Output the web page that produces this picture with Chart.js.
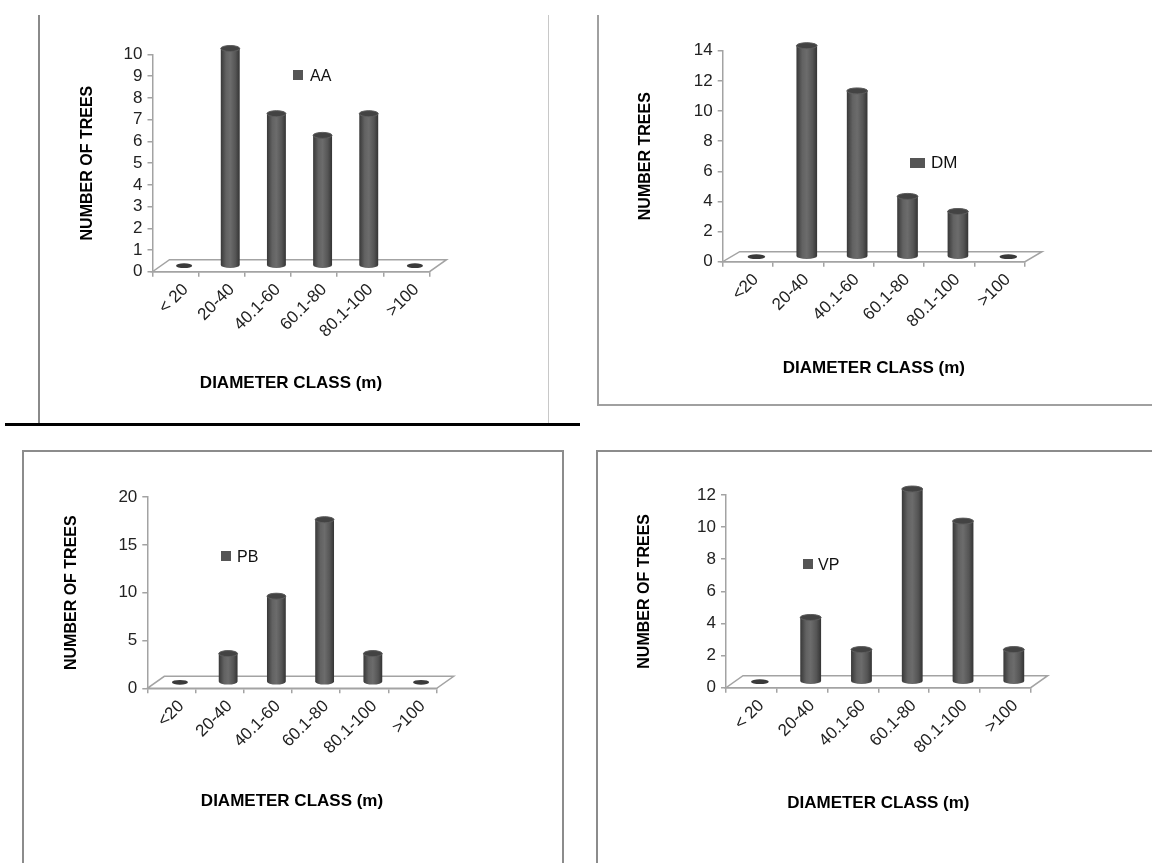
<!DOCTYPE html>
<html>
<head>
<meta charset="utf-8">
<script src="https://cdn.jsdelivr.net/npm/chart.js@4.4.1/dist/chart.umd.min.js"></script>
<style>
  html, body { margin: 0; padding: 0; background: #fff; }
  #sheet { position: relative; width: 1152px; height: 863px; overflow: hidden; background: #fff;
           font-family: "Liberation Sans", Arial, sans-serif; }
  #sheet canvas { position: absolute; }
  .rule { position: absolute; box-sizing: border-box; }
  .swatch { position: absolute; background: #555; }
  .keytext { position: absolute; font-size: 16px; line-height: 16px; color: #111; white-space: nowrap; }
</style>
</head>
<body>
<div id="sheet">
  <!-- panel frames -->
  <div class="rule" style="left:38px;top:15px;width:2px;height:409px;background:#8a8a8a"></div>
  <div class="rule" style="left:548px;top:15px;width:1px;height:409px;background:#c8c8c8"></div>
  <div class="rule" style="left:5px;top:423px;width:575px;height:3px;background:#000"></div>
  <div class="rule" style="left:597px;top:15px;width:560px;height:391px;border-left:2px solid #a0a0a0;border-bottom:2px solid #a0a0a0"></div>
  <div class="rule" style="left:22px;top:450px;width:542px;height:430px;border:2.5px solid #8c8c8c"></div>
  <div class="rule" style="left:596px;top:450px;width:600px;height:430px;border:2.5px solid #8c8c8c"></div>

  <canvas id="chartAA" width="505" height="405" style="left:40px;top:16px"></canvas>
  <canvas id="chartDM" width="553" height="388" style="left:599px;top:16px"></canvas>
  <canvas id="chartPB" width="537" height="410" style="left:25px;top:453px"></canvas>
  <canvas id="chartVP" width="553" height="410" style="left:599px;top:453px"></canvas>

  <!-- series keys -->
  <div class="swatch" style="left:293px;top:70px;width:10px;height:10px"></div>
  <div class="keytext" style="left:310px;top:68px">AA</div>
  <div class="swatch" style="left:910px;top:158px;width:15px;height:10px"></div>
  <div class="keytext" style="left:931px;top:155px;font-size:17px">DM</div>
  <div class="swatch" style="left:221px;top:551px;width:10px;height:10px"></div>
  <div class="keytext" style="left:237px;top:549px">PB</div>
  <div class="swatch" style="left:803px;top:559px;width:10px;height:10px"></div>
  <div class="keytext" style="left:818px;top:557px">VP</div>
</div>

<script>
// Diameter classes (two spellings of the first class appear on the panels)
const classesSpaced = ['< 20', '20-40', '40.1-60', '60.1-80', '80.1-100', '>100'];
const classesTight  = ['<20', '20-40', '40.1-60', '60.1-80', '80.1-100', '>100'];

// Number of trees per diameter class, one list per species
const aaTrees = [0, 10, 7, 6, 7, 0];
const dmTrees = [0, 14, 11, 4, 3, 0];
const pbTrees = [0, 3, 9, 17, 3, 0];
const vpTrees = [0, 4, 2, 12, 10, 2];

// Value-axis ranges
const aaAxis = { max: 10, step: 1 };
const dmAxis = { max: 14, step: 2 };
const pbAxis = { max: 20, step: 5 };
const vpAxis = { max: 12, step: 2 };

const FONT = '"Liberation Sans", Arial, sans-serif';
const AXIS_GREY = '#a3a3a3';

// Floor plane and cylindrical columns drawn from the bar elements' own geometry
const cylinders = {
  id: 'cylinders',
  beforeDatasetsDraw(chart, args, opts) {
    const { ctx, chartArea: { left, right, bottom } } = chart;
    const dx = opts.dx, dy = opts.dy;
    ctx.save();
    ctx.beginPath();
    ctx.moveTo(left, bottom);
    ctx.lineTo(right, bottom);
    ctx.lineTo(right + dx, bottom + dy);
    ctx.lineTo(left + dx, bottom + dy);
    ctx.closePath();
    ctx.fillStyle = '#ffffff';
    ctx.fill();
    ctx.strokeStyle = AXIS_GREY;
    ctx.lineWidth = 1.5;
    ctx.stroke();
    ctx.restore();
  },
  afterDatasetsDraw(chart, args, opts) {
    const ctx = chart.ctx;
    const dx = opts.dx, dy = opts.dy;
    const ry = 3;
    chart.getDatasetMeta(0).data.forEach(bar => {
      const p = bar.getProps(['x', 'y', 'base', 'width'], true);
      const cx = p.x + dx / 2;
      const top = p.y + dy / 2;
      const bot = p.base + dy / 2;
      const rx = p.width / 2;
      ctx.save();
      if (bot - top < 1) {
        ctx.beginPath();
        ctx.ellipse(cx, bot, rx * 0.85, ry * 0.8, 0, 0, Math.PI * 2);
        ctx.fillStyle = '#3a3a3a';
        ctx.fill();
        ctx.restore();
        return;
      }
      const g = ctx.createLinearGradient(cx - rx, 0, cx + rx, 0);
      g.addColorStop(0, '#383838');
      g.addColorStop(0.28, '#626262');
      g.addColorStop(0.5, '#6c6c6c');
      g.addColorStop(0.78, '#555555');
      g.addColorStop(1, '#343434');
      ctx.beginPath();
      ctx.moveTo(cx - rx, top);
      ctx.lineTo(cx - rx, bot);
      ctx.ellipse(cx, bot, rx, ry, 0, Math.PI, 0, true);
      ctx.lineTo(cx + rx, top);
      ctx.ellipse(cx, top, rx, ry, 0, 0, Math.PI, true);
      ctx.closePath();
      ctx.fillStyle = g;
      ctx.fill();
      ctx.beginPath();
      ctx.ellipse(cx, top, rx, ry, 0, 0, Math.PI * 2);
      ctx.fillStyle = '#434343';
      ctx.fill();
      ctx.strokeStyle = '#5e5e5e';
      ctx.lineWidth = 1;
      ctx.stroke();
      ctx.restore();
    });
  }
};

function panel(canvasId, labels, values, axis, yTitle, frame) {
  const yTitleLH = 16 * 1.2;
  const xTitleLH = 17 * 1.2;
  const c = frame.canvas;
  const padLeft = (frame.yTitleX - c.x) - yTitleLH / 2;
  const yWidth = (frame.plot.l - c.x) - padLeft;
  const padTop = frame.plot.t - c.y;
  const padRight = (c.x + c.w) - frame.plot.r;
  const padBottom = (c.y + c.h) - frame.xTitleY - xTitleLH / 2;
  const xHeight = (c.y + c.h - frame.plot.b) - padBottom;

  return new Chart(document.getElementById(canvasId), {
    type: 'bar',
    data: {
      labels: labels,
      datasets: [{
        data: values,
        backgroundColor: 'rgba(0,0,0,0)',
        borderWidth: 0,
        barPercentage: frame.barShare,
        categoryPercentage: 1
      }]
    },
    options: {
      responsive: false,
      animation: false,
      devicePixelRatio: 1,
      layout: { padding: { left: padLeft, top: padTop, right: padRight, bottom: padBottom } },
      plugins: {
        legend: { display: false },
        tooltip: { enabled: false },
        cylinders: { dx: frame.dx, dy: frame.dy }
      },
      scales: {
        x: {
          offset: true,
          grid: { display: true, drawOnChartArea: false, drawTicks: true, tickLength: 5, color: AXIS_GREY, lineWidth: 1.5 },
          border: { display: true, color: AXIS_GREY, width: 1.5 },
          ticks: {
            autoSkip: false, maxRotation: 45, minRotation: 45,
            labelOffset: frame.labelShift, padding: 3,
            color: '#222', font: { family: FONT, size: 17 }
          },
          title: {
            display: true, text: 'DIAMETER CLASS (m)', color: '#000',
            padding: { top: 0, bottom: 0 },
            font: { family: FONT, size: 17, weight: 'bold' }
          },
          afterFit: s => { s.height = xHeight; }
        },
        y: {
          min: 0, max: axis.max,
          grid: { display: true, drawOnChartArea: false, drawTicks: true, tickLength: 5, color: AXIS_GREY, lineWidth: 1.5 },
          border: { display: true, color: AXIS_GREY, width: 1.5 },
          ticks: { stepSize: axis.step, autoSkip: false, padding: 5, color: '#222', font: { family: FONT, size: 17 } },
          title: {
            display: true, text: yTitle, color: '#000',
            padding: { top: 0, bottom: 0 },
            font: { family: FONT, size: 16, weight: 'bold' }
          },
          afterFit: s => { s.width = yWidth; }
        }
      }
    },
    plugins: [cylinders]
  });
}

panel('chartAA', classesSpaced, aaTrees, aaAxis, 'NUMBER OF TREES', {
  canvas: { x: 40, y: 16, w: 505, h: 405 },
  plot: { l: 152.5, r: 429.5, t: 54.5, b: 271.7 },
  yTitleX: 88, xTitleY: 383, dx: 17, dy: -12, barShare: 0.41, labelShift: 10
});
panel('chartDM', classesTight, dmTrees, dmAxis, 'NUMBER TREES', {
  canvas: { x: 599, y: 16, w: 553, h: 388 },
  plot: { l: 722.7, r: 1025, t: 50.7, b: 261.7 },
  yTitleX: 646, xTitleY: 368, dx: 17, dy: -10, barShare: 0.41, labelShift: 8
});
panel('chartPB', classesTight, pbTrees, pbAxis, 'NUMBER OF TREES', {
  canvas: { x: 25, y: 453, w: 537, h: 410 },
  plot: { l: 147.3, r: 436.7, t: 497, b: 688.3 },
  yTitleX: 72, xTitleY: 801, dx: 17, dy: -12, barShare: 0.39, labelShift: 10
});
panel('chartVP', classesSpaced, vpTrees, vpAxis, 'NUMBER OF TREES', {
  canvas: { x: 599, y: 453, w: 553, h: 410 },
  plot: { l: 726, r: 1030.7, t: 495, b: 687.7 },
  yTitleX: 645, xTitleY: 803, dx: 17, dy: -12, barShare: 0.41, labelShift: 10
});
</script>
</body>
</html>
